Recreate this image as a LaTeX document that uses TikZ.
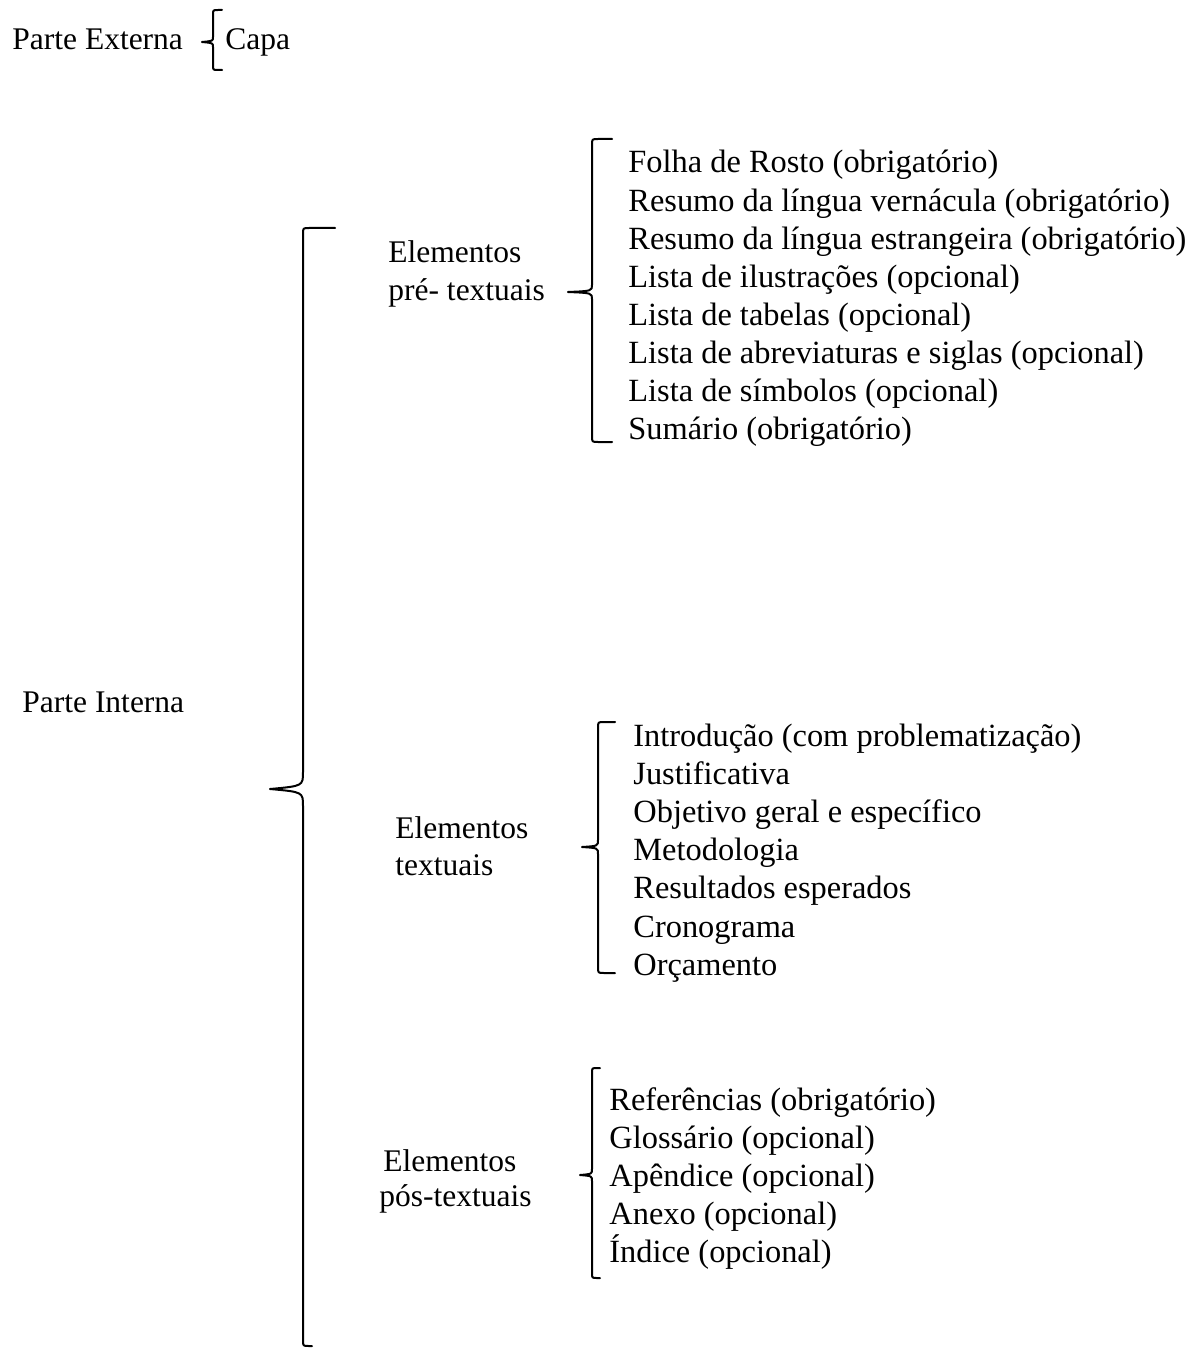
\documentclass[tikz,border=0pt]{standalone}
\usepackage{fontspec}
\setmainfont{Liberation Serif}
\usetikzlibrary{positioning}

\begin{document}
\begin{tikzpicture}[x=0.5pt, y=-0.5pt,
        every node/.style={font=\fontsize{15.75}{19}\selectfont, inner sep=0pt, anchor=west, text height=11.5pt, text depth=3.5pt},
        item/.style={font=\fontsize{16.2}{19}\selectfont},
        chave/.style={line width=1pt, line cap=round, line join=round}]
        \useasboundingbox (0,0) rectangle (1193,1348);

        % parte externa
        \node (externa) at (12,42) {Parte Externa};
        \node (capa) at (225,42) {Capa};
        \draw[chave] (222,10) -- (218,10) .. controls (213,10) .. (213,15) -- (213,37) .. controls (213,41) .. (202,42) .. controls (213,43) .. (213,47) -- (213,65) .. controls (213,70) .. (218,70) -- (222,70);

        % parte interna
        \node (interna) at (22,704) {Parte Interna};
        \draw[chave] (335,228) -- (309,228) .. controls (303,228) .. (303,234) -- (303,772) .. controls (303,786) .. (270,789) .. controls (303,792) .. (303,806) -- (303,1340) .. controls (303,1346) .. (309,1346) -- (312,1346);

        % elementos pre-textuais
        \node (pre1) at (388,255) {Elementos};
        \node (pre2) at (388,292) {pré- textuais};
        \draw[chave] (612,139) -- (598,139) .. controls (592,139) .. (592,145) -- (592,285) .. controls (592,291) .. (568,292) .. controls (592,293) .. (592,299) -- (592,436) .. controls (592,442) .. (598,442) -- (612,442);
        \foreach \txt [count=\i] in {{Folha de Rosto (obrigatório)}, {Resumo da língua vernácula (obrigatório)}, {Resumo da língua estrangeira (obrigatório)}, {Lista de ilustrações (opcional)}, {Lista de tabelas (opcional)}, {Lista de abreviaturas e siglas (opcional)}, {Lista de símbolos (opcional)}, {Sumário (obrigatório)}}
            \node[item] (pre-item\i) at (628,{165+38.1*(\i-1)}) {\txt};

        % elementos textuais
        \node (tex1) at (395,830) {Elementos};
        \node (tex2) at (395,867) {textuais};
        \draw[chave] (615,722) -- (604,722) .. controls (598,722) .. (598,728) -- (598,840) .. controls (598,846) .. (582,847) .. controls (598,848) .. (598,854) -- (598,967) .. controls (598,973) .. (604,973) -- (615,973);
        \foreach \txt [count=\i] in {{Introdução (com problematização)}, {Justificativa}, {Objetivo geral e específico}, {Metodologia}, {Resultados esperados}, {Cronograma}, {Orçamento}}
            \node[item] (tex-item\i) at (633,{738+38.2*(\i-1)}) {\txt};

        % elementos pos-textuais
        \node (pos1) at (383,1163) {Elementos};
        \node (pos2) at (379,1198) {pós-textuais};
        \draw[chave] (600,1068) -- (597,1068) .. controls (592,1068) .. (592,1073) -- (592,1169) .. controls (592,1174) .. (580,1175) .. controls (592,1176) .. (592,1181) -- (592,1273) .. controls (592,1278) .. (597,1278) -- (600,1278);
        \foreach \txt [count=\i] in {{Referências (obrigatório)}, {Glossário (opcional)}, {Apêndice (opcional)}, {Anexo (opcional)}, {Índice (opcional)}}
            \node[item] (pos-item\i) at (609,{1102+38.2*(\i-1)}) {\txt};
\end{tikzpicture}
\end{document}
